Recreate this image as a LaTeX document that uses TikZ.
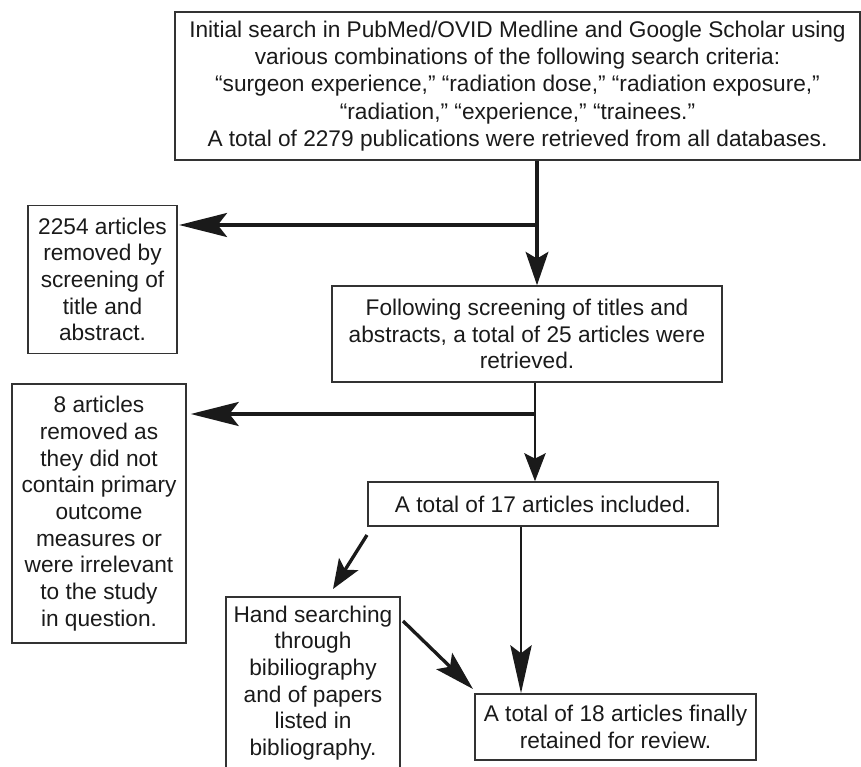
\documentclass[tikz,border=0pt]{standalone}
\usepackage{fontspec}
\setmainfont{Liberation Sans}
\usetikzlibrary{arrows.meta}
\definecolor{ink}{HTML}{1A1A1A}
\definecolor{edge}{HTML}{333333}
\tikzset{
  box/.style={draw=edge, line width=1.1pt, align=center, inner sep=0pt, text=ink,
    font=\fontsize{17pt}{20pt}\selectfont},
  thick arrow/.style={draw=ink, line width=2.5pt},
  thin arrow/.style={draw=ink, line width=1.9pt},
}
\begin{document}
\begin{tikzpicture}[x=0.75pt,y=-0.75pt]
\useasboundingbox (0,0) rectangle (861,767);
% boxes
\node[box, minimum width=513.75pt, minimum height=111pt,
  font=\fontsize{17pt}{20.5pt}\selectfont] (top) at (517.5,86)
  {Initial search in PubMed/OVID Medline and Google Scholar using\\
   various combinations of the following search criteria:\\
   “surgeon experience,” “radiation dose,” “radiation exposure,”\\
   “radiation,” “experience,” “trainees.”\\
   A total of 2279 publications were retrieved from all databases.};
\node[box, minimum width=111.75pt, minimum height=111pt] (rem1) at (102.5,279.5)
  {2254 articles\\ removed by\\ screening of\\ title and\\ abstract.};
\node[box, minimum width=292.5pt, minimum height=72pt] (scr) at (527,334)
  {Following screening of titles and\\ abstracts, a total of 25 articles were\\ retrieved.};
\node[box, minimum width=130.5pt, minimum height=194.25pt] (rem2) at (99,513.5)
  {8 articles\\ removed as\\ they did not\\ contain primary\\ outcome\\ measures or\\ were irrelevant\\ to the study\\ in question.};
\node[box, minimum width=262.5pt, minimum height=33pt] (inc) at (543,504)
  {A total of 17 articles included.};
\node[box, minimum width=130.5pt, minimum height=129pt] (hand) at (313,683)
  {Hand searching\\ through\\ bibiliography\\ and of papers\\ listed in\\ bibliography.};
\node[box, minimum width=210.75pt, minimum height=49.5pt] (fin) at (615.5,727)
  {A total of 18 articles finally\\ retained for review.};
% connectors
\coordinate (j1) at (537,225);
\coordinate (j2) at (535,414);
\coordinate (d1s) at (367,535);
\coordinate (d1e) at (333,589);
\coordinate (d2s) at (403,621);
\coordinate (d2e) at (473,689);
\draw[thick arrow] (top.south -| j1) -- (j1);
\draw[thick arrow, -{Stealth[length=25pt, width=17pt, inset=5pt]}] (j1) -- (j1 |- scr.north);
\draw[thick arrow, -{Stealth[length=36pt, width=18pt, inset=7pt]}] (j1) -- ([xshift=1pt]j1 -| rem1.east);
\draw[thin arrow] (scr.south -| j2) -- (j2);
\draw[thin arrow, -{Stealth[length=21pt, width=16pt, inset=4pt]}] (j2) -- (j2 |- inc.north);
\draw[thick arrow, -{Stealth[length=36pt, width=18pt, inset=7pt]}] (j2) -- ([xshift=3pt]j2 -| rem2.east);
\draw[thin arrow, -{Stealth[length=36pt, width=16pt, inset=6pt]}] (inc.south -| 521,0) -- (fin.north -| 521,0);
\draw[thick arrow, -{Stealth[length=22pt, width=17pt, inset=5pt]}] (d1s) -- (d1e);
\draw[thick arrow, -{Stealth[length=30pt, width=17pt, inset=6pt]}] (d2s) -- (d2e);
\end{tikzpicture}
\end{document}
